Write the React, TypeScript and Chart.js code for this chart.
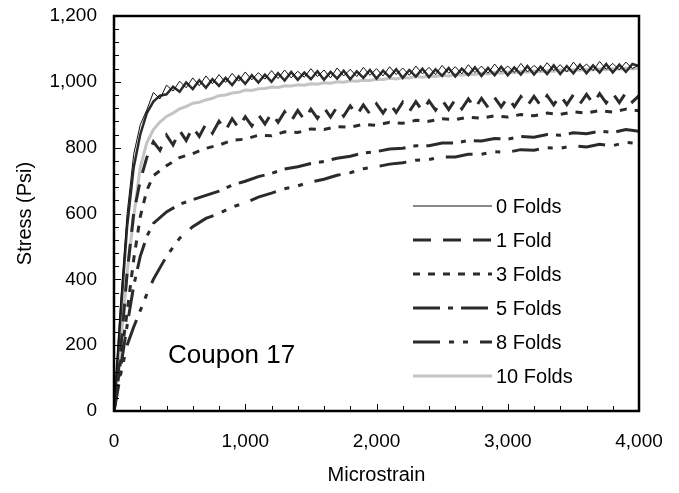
import React, { useEffect, useRef } from 'react';
import { Chart, registerables } from 'chart.js';
Chart.register(...registerables);

const FONT = '"Liberation Sans", Arial, Helvetica, sans-serif';

// Microstrain sample positions (fine traces)
const strainFine = [
  0, 50, 100, 150, 200, 250, 300, 350, 400, 450, 500, 550, 600, 650, 700, 750, 800, 850, 900, 950,
  1000, 1050, 1100, 1150, 1200, 1250, 1300, 1350, 1400, 1450, 1500, 1550, 1600, 1650, 1700, 1750, 1800, 1850, 1900, 1950,
  2000, 2050, 2100, 2150, 2200, 2250, 2300, 2350, 2400, 2450, 2500, 2550, 2600, 2650, 2700, 2750, 2800, 2850, 2900, 2950,
  3000, 3050, 3100, 3150, 3200, 3250, 3300, 3350, 3400, 3450, 3500, 3550, 3600, 3650, 3700, 3750, 3800, 3850, 3900, 3950,
  4000,
];

// Microstrain sample positions (coarse traces)
const strainCoarse = [
  0, 50, 100, 150, 200, 250, 300, 400, 500, 600, 700, 800, 900,
  1000, 1100, 1200, 1300, 1400, 1500, 1600, 1700, 1800, 1900,
  2000, 2100, 2200, 2300, 2400, 2500, 2600, 2700, 2800, 2900,
  3000, 3100, 3200, 3300, 3400, 3500, 3600, 3700, 3800, 3900, 4000,
];

const stress0Folds = [
  0, 330, 600, 780, 870, 915, 968, 948, 990, 972, 1002, 982, 1012, 988, 1018, 994, 1022, 998, 1026, 1002,
  1030, 1006, 1028, 1008, 1034, 1010, 1036, 1012, 1032, 1014, 1040, 1016, 1036, 1012, 1042, 1018, 1038, 1016, 1044, 1020,
  1040, 1018, 1046, 1022, 1042, 1020, 1048, 1024, 1044, 1022, 1050, 1026, 1046, 1024, 1052, 1028, 1048, 1026, 1054, 1030,
  1048, 1028, 1056, 1030, 1050, 1032, 1058, 1034, 1052, 1030, 1060, 1036, 1054, 1034, 1062, 1038, 1056, 1036, 1060, 1040,
  1052,
];

// unlabelled heavy trace lying with the 0 Folds curve
const stressHeavyTrace = [
  0, 290, 560, 740, 840, 905, 940, 958, 962, 985, 970, 998, 978, 1005, 982, 1008, 988, 1012, 990, 1016,
  994, 1020, 998, 1022, 1000, 1026, 1004, 1030, 1006, 1028, 1008, 1032, 1006, 1030, 1010, 1034, 1008, 1032, 1012, 1036,
  1010, 1034, 1014, 1038, 1012, 1036, 1016, 1040, 1014, 1038, 1018, 1042, 1016, 1040, 1020, 1044, 1018, 1042, 1020, 1046,
  1020, 1044, 1022, 1048, 1022, 1046, 1024, 1050, 1024, 1048, 1026, 1052, 1026, 1050, 1028, 1054, 1028, 1052, 1030, 1054,
  1048,
];

const stress1Fold = [
  0, 180, 420, 600, 700, 770, 818, 792, 838, 808, 852, 822, 862, 834, 872, 844, 880, 852, 888, 860,
  894, 866, 900, 872, 905, 877, 909, 881, 913, 885, 917, 889, 921, 893, 924, 896, 927, 899, 930, 902,
  933, 905, 935, 907, 938, 910, 940, 912, 942, 914, 944, 916, 946, 918, 948, 920, 950, 922, 952, 924,
  953, 925, 955, 927, 956, 928, 958, 930, 959, 931, 961, 933, 962, 934, 964, 936, 965, 937, 967, 939,
  958,
];

const stress3Folds = [
  0, 150, 300, 460, 590, 670, 715, 745, 770, 782, 798, 808, 822,
  826, 838, 836, 848, 846, 857, 855, 864, 862, 871,
  868, 877, 874, 883, 880, 888, 885, 893, 889, 897,
  893, 901, 897, 905, 901, 909, 905, 913, 908, 917, 912,
];

const stress5Folds = [
  0, 130, 260, 380, 470, 530, 570, 605, 628, 642, 655, 668, 686,
  698, 712, 722, 735, 742, 752, 758, 768, 774, 784,
  788, 796, 798, 806, 806, 814, 814, 822, 820, 828,
  826, 834, 832, 840, 838, 845, 842, 850, 846, 855, 850,
];

const stress8Folds = [
  0, 110, 200, 255, 305, 355, 400, 470, 525, 560, 585, 600, 620,
  632, 650, 662, 675, 684, 696, 704, 716, 724, 736,
  742, 750, 754, 762, 764, 772, 772, 780, 780, 788,
  786, 794, 792, 800, 798, 806, 802, 810, 806, 816, 812,
];

const stress10Folds = [
  0, 200, 420, 590, 740, 815, 855, 878, 895, 905, 918, 925, 935, 938, 945, 950, 958, 960, 966, 968,
  975, 974, 979, 980, 984, 983, 988, 987, 991, 990, 994, 993, 997, 996, 1000, 999, 1003, 1002, 1005, 1004,
  1008, 1007, 1011, 1009, 1013, 1012, 1016, 1014, 1018, 1016, 1020, 1018, 1022, 1020, 1024, 1022, 1026, 1024, 1028, 1026,
  1030, 1028, 1031, 1029, 1033, 1031, 1034, 1032, 1036, 1034, 1037, 1035, 1038, 1036, 1040, 1037, 1040, 1038, 1042, 1039,
  1042,
];

const xTicks = [0, 1000, 2000, 3000, 4000];
const yTicks = [0, 200, 400, 600, 800, 1000, 1200];

const pts = (xs: number[], ys: number[]) => xs.map((x, i) => ({ x, y: ys[i] }));

export default function App() {
  const ref = useRef<HTMLCanvasElement>(null);

  useEffect(() => {
    document.body.style.margin = '0';
    const canvas = ref.current;
    if (!canvas) return;

    const DARK = '#2b2b2b';

    const decor = {
      id: 'decor',
      afterDatasetsDraw(chart: any) {
        const ctx = chart.ctx;
        const { left, right, top, bottom } = chart.chartArea;
        const xs = chart.scales.x;
        const ys = chart.scales.y;
        ctx.save();
        ctx.strokeStyle = '#000';
        ctx.lineWidth = 1;
        ctx.setLineDash([]);
        ctx.beginPath();
        for (let v = 0; v <= 4000; v += 200) {
          const px = Math.round(xs.getPixelForValue(v)) + 0.5;
          const len = v % 1000 === 0 ? 7 : 5;
          ctx.moveTo(px, bottom);
          ctx.lineTo(px, bottom - len);
        }
        for (let v = 0; v <= 1200; v += 40) {
          const py = Math.round(ys.getPixelForValue(v)) + 0.5;
          const len = v % 200 === 0 ? 7 : 5;
          ctx.moveTo(left, py);
          ctx.lineTo(left + len, py);
        }
        ctx.stroke();
        ctx.lineWidth = 2.5;
        ctx.strokeRect(left, top, right - left, bottom - top);

        // annotation
        ctx.fillStyle = '#000';
        ctx.font = `26px ${FONT}`;
        ctx.textBaseline = 'alphabetic';
        ctx.textAlign = 'left';
        ctx.fillText('Coupon 17', 168, 363);

        // legend
        const ds = chart.data.datasets.filter((d: any) => d.label);
        const order = ['0 Folds', '1 Fold', '3 Folds', '5 Folds', '8 Folds', '10 Folds'];
        ctx.font = `20px ${FONT}`;
        ctx.textBaseline = 'middle';
        order.forEach((name, k) => {
          const d = ds.find((q: any) => q.label === name);
          if (!d) return;
          const y = 206 + k * 34;
          ctx.beginPath();
          ctx.strokeStyle = d.borderColor;
          ctx.lineWidth = d.borderWidth;
          ctx.setLineDash(d.borderDash || []);
          ctx.moveTo(413, y);
          ctx.lineTo(492, y);
          ctx.stroke();
          ctx.setLineDash([]);
          ctx.fillStyle = '#000';
          ctx.fillText(name, 496, y + 1);
        });
        ctx.restore();
      },
    };

    const base = { showLine: true, pointRadius: 0, tension: 0, fill: false };

    const chart = new Chart(canvas, {
      type: 'scatter',
      data: {
        datasets: [
          { ...base, label: '0 Folds', data: pts(strainFine, stress0Folds), borderColor: '#111', borderWidth: 1 },
          { ...base, label: '', data: pts(strainFine, stressHeavyTrace), borderColor: DARK, borderWidth: 2.5 },
          { ...base, label: '1 Fold', data: pts(strainFine, stress1Fold), borderColor: DARK, borderWidth: 3, borderDash: [18, 12] },
          { ...base, label: '3 Folds', data: pts(strainCoarse, stress3Folds), borderColor: DARK, borderWidth: 3, borderDash: [7, 8] },
          { ...base, label: '5 Folds', data: pts(strainCoarse, stress5Folds), borderColor: DARK, borderWidth: 3, borderDash: [27, 8, 5, 8] },
          { ...base, label: '8 Folds', data: pts(strainCoarse, stress8Folds), borderColor: DARK, borderWidth: 3, borderDash: [27, 9, 5, 9, 5, 12] },
          { ...base, label: '10 Folds', data: pts(strainFine, stress10Folds), borderColor: '#c4c4c4', borderWidth: 3 },
        ],
      } as any,
      options: {
        responsive: false,
        animation: false,
        devicePixelRatio: 1,
        layout: { padding: { left: 0, top: 16, right: 40, bottom: 0 } },
        plugins: { legend: { display: false }, tooltip: { enabled: false }, title: { display: false } },
        scales: {
          x: {
            type: 'linear',
            min: 0,
            max: 4000,
            afterFit: (s: any) => { s.height = 82; s.paddingLeft = 0; s.paddingRight = 0; },
            afterBuildTicks: (s: any) => { s.ticks = xTicks.map((v) => ({ value: v })); },
            grid: { display: false, drawTicks: false },
            border: { display: false },
            ticks: {
              padding: 19,
              color: '#000',
              font: { family: FONT, size: 19 },
              maxRotation: 0,
              callback: (v: any) => Number(v).toLocaleString('en-US'),
            },
            title: { display: true, text: 'Microstrain', color: '#000', font: { family: FONT, size: 20 }, padding: { bottom: 6, top: 0 } },
          },
          y: {
            type: 'linear',
            min: 0,
            max: 1200,
            afterFit: (s: any) => { s.width = 114; s.paddingTop = 0; s.paddingBottom = 0; },
            afterBuildTicks: (s: any) => { s.ticks = yTicks.map((v) => ({ value: v })); },
            grid: { display: false, drawTicks: false },
            border: { display: false },
            ticks: {
              padding: 17,
              color: '#000',
              font: { family: FONT, size: 19 },
              callback: (v: any) => Number(v).toLocaleString('en-US'),
            },
            title: { display: true, text: 'Stress (Psi)', color: '#000', font: { family: FONT, size: 20 }, padding: { top: 13, bottom: 0 } },
          },
        },
      } as any,
      plugins: [decor],
    });
    return () => chart.destroy();
  }, []);

  return (
    <div style={{ width: 679, height: 493 }}>
      <canvas ref={ref} width={679} height={493} style={{ display: 'block' }} />
    </div>
  );
}
